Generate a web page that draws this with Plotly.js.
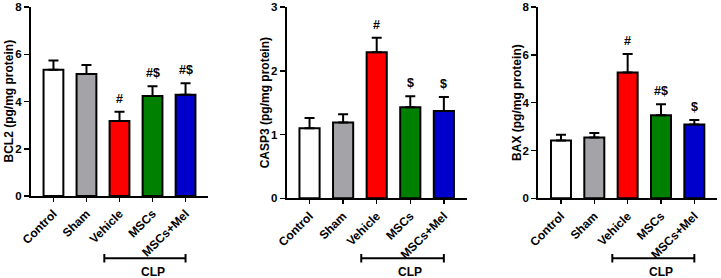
<!DOCTYPE html>
<html>
<head>
<meta charset="utf-8">
<script src="https://cdn.plot.ly/plotly-3.0.1.min.js"></script>
<style>
  html, body { margin: 0; padding: 0; background: #fff; }
  #chart { width: 721px; height: 278px; }
</style>
</head>
<body>
<div id="chart"></div>
<script>
// Groups (shared by all three panels)
const groups = ["Control", "Sham", "Vehicle", "MSCs", "MSCs+Mel"];
const groupColors = ["#ffffff", "#a4a4a8", "#ff0000", "#008000", "#0000cd"];

// BCL2 (pg/mg protein): mean and upper SD
const bcl2Mean = [5.35, 5.17, 3.18, 4.24, 4.29];
const bcl2Err  = [0.39, 0.38, 0.39, 0.41, 0.48];
const bcl2Marks = ["", "", "#", "#$", "#$"];

// CASP3 (pg/mg protein)
const casp3Mean = [1.10, 1.19, 2.29, 1.43, 1.37];
const casp3Err  = [0.16, 0.13, 0.23, 0.17, 0.22];
const casp3Marks = ["", "", "#", "$", "$"];

// BAX (pg/mg protein)
const baxMean = [2.42, 2.54, 5.26, 3.47, 3.09];
const baxErr  = [0.24, 0.19, 0.78, 0.46, 0.19];
const baxMarks = ["", "", "#", "#$", "$"];

const yTicks = {
  bcl2: [0, 2, 4, 6, 8],
  casp3: [0, 1, 2, 3],
  bax: [0, 2, 4, 6, 8]
};

const W = 721, H = 278;
const FONT = "Liberation Sans, Arial, sans-serif";
const bold = (size) => ({ family: FONT, size: size, color: "#000", weight: "bold" });

const panels = [
  { mean: bcl2Mean, err: bcl2Err, marks: bcl2Marks, ticks: yTicks.bcl2, title: "BCL2 (pg/mg protein)",
    xpx: [31, 208], ypx: [196, 7] },
  { mean: casp3Mean, err: casp3Err, marks: casp3Marks, ticks: yTicks.casp3, title: "CASP3 (pg/mg protein)",
    xpx: [286.7, 466.7], ypx: [198.3, 7] },
  { mean: baxMean, err: baxErr, marks: baxMarks, ticks: yTicks.bax, title: "BAX (pg/mg protein)",
    xpx: [538.3, 717], ypx: [198.3, 7] }
];

const data = [];
const layout = {
  width: W, height: H,
  margin: { l: 0, r: 0, t: 0, b: 0 },
  paper_bgcolor: "#fff", plot_bgcolor: "rgba(0,0,0,0)",
  showlegend: false,
  annotations: [],
  shapes: []
};

panels.forEach((p, i) => {
  const n = i === 0 ? "" : String(i + 1);
  const xa = "x" + n, ya = "y" + n;
  const yMax = p.ticks[p.ticks.length - 1];

  data.push({
    type: "bar",
    x: groups,
    y: p.mean,
    xaxis: xa, yaxis: ya,
    width: 0.6,
    marker: { color: groupColors, line: { color: "#000", width: 2 } },
    error_y: {
      type: "data", symmetric: false,
      array: p.err, arrayminus: p.err.map(() => 0),
      color: "#000", thickness: 2, width: 5
    },
    hoverinfo: "skip"
  });

  layout["xaxis" + n] = {
    domain: [p.xpx[0] / W, p.xpx[1] / W],
    anchor: ya,
    type: "category",
    range: [-0.68, 4.68],
    showline: true, linecolor: "#000", linewidth: 2,
    ticks: "outside", ticklen: 4, tickwidth: 1.5, tickcolor: "#000",
    tickangle: -45,
    tickfont: bold(12),
    showgrid: false, zeroline: false, fixedrange: true
  };
  layout["yaxis" + n] = {
    domain: [(H - p.ypx[0]) / H, (H - p.ypx[1]) / H],
    anchor: xa,
    range: [0, yMax * 1.0005],
    tickvals: p.ticks,
    ticklabeloverflow: "allow",
    showline: true, linecolor: "#000", linewidth: 2,
    ticks: "outside", ticklen: 5, tickwidth: 1.5, tickcolor: "#000",
    tickfont: bold(11.5),
    showgrid: false, zeroline: false, fixedrange: true
  };

  // Y-axis title
  layout.annotations.push({
    xref: "paper", yref: "paper",
    x: (p.xpx[0] - 22) / W,
    y: (H - (p.ypx[0] + p.ypx[1]) / 2) / H,
    text: p.title, textangle: -90, showarrow: false,
    xanchor: "center", yanchor: "middle",
    font: bold(12)
  });

  // Significance marks above the error bars
  p.marks.forEach((m, k) => {
    if (!m) return;
    layout.annotations.push({
      xref: xa, yref: ya,
      x: groups[k], y: p.mean[k] + p.err[k],
      text: m, showarrow: false,
      xanchor: "center", yanchor: "bottom", yshift: 4,
      font: bold(12.5)
    });
  });

  // CLP bracket under Vehicle, MSCs and MSCs+Mel
  const yb = (H - 258.3) / H, yt = (H - 254) / H, ybot = (H - 262.5) / H;
  const x0 = 2 - 0.46, x1 = 4;
  layout.shapes.push(
    { type: "line", xref: xa, yref: "paper", x0: x0, x1: x1, y0: yb, y1: yb, line: { color: "#000", width: 2 } },
    { type: "line", xref: xa, yref: "paper", x0: x0, x1: x0, y0: ybot, y1: yt, line: { color: "#000", width: 2 } },
    { type: "line", xref: xa, yref: "paper", x0: x1, x1: x1, y0: ybot, y1: yt, line: { color: "#000", width: 2 } }
  );
  layout.annotations.push({
    xref: xa, yref: "paper",
    x: 3, y: (H - 271.7) / H,
    text: "CLP", showarrow: false,
    xanchor: "center", yanchor: "middle",
    font: bold(12)
  });
});

Plotly.newPlot("chart", data, layout, { staticPlot: true, displayModeBar: false });
</script>
</body>
</html>
